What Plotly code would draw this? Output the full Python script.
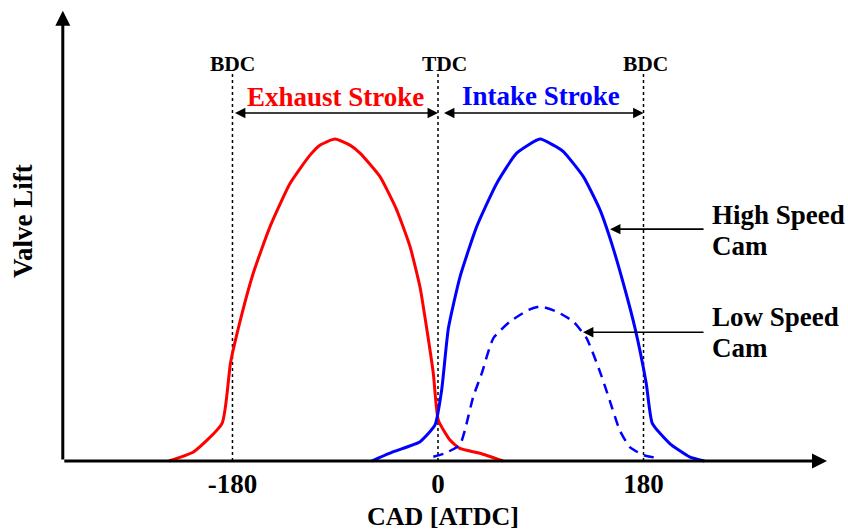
import plotly.graph_objects as go

# ---- data (crank angle in degrees ATDC, valve lift in arbitrary units) ----
exhaust_cad = [-235.7, -213.9, -189.1, -181.8, -174.9, -161.8, -147.1, -129.6, -112.1, -103.4,
               -90.2, -77.1, -68.3, -50.8, -36.2, -24.5, -15.8, -9.9, -4.1, 0.3,
               10.5, 19.2, 36.7, 57.0]
exhaust_lift = [0.0, 0.29, 1.17, 3.03, 4.12, 5.83, 7.28, 8.62, 9.50, 9.81,
                10.0, 9.81, 9.56, 8.83, 7.80, 6.66, 5.41, 4.12, 2.72, 1.27,
                0.65, 0.39, 0.24, 0.0]

intake_high_cad = [-58.0, -39.0, -15.7, -2.6, 3.2, 9.1, 19.3, 33.9, 51.4, 68.9, 89.3,
                   101.0, 109.8, 127.3, 141.9, 152.1, 162.3, 172.6, 182.4, 187.7,
                   202.8, 220.3, 233.4]
intake_high_lift = [0.0, 0.29, 0.60, 1.12, 2.2, 4.12, 5.72, 7.28, 8.62, 9.56, 10.0,
                    9.81, 9.61, 8.83, 7.80, 6.76, 5.52, 4.12, 2.41, 1.17,
                    0.55, 0.13, 0.0]

intake_low_cad = [-4.1, 6.1, 19.2, 23.6, 30.9, 38.3, 48.4, 63.1, 79.1, 89.3,
                  103.9, 118.5, 130.2, 141.9, 150.3, 159.1, 167.8, 179.5, 194.0]
intake_low_lift = [0.13, 0.24, 0.50, 0.96, 2.0, 2.72, 3.81, 4.33, 4.69, 4.80,
                   4.64, 4.33, 3.81, 2.77, 1.89, 0.96, 0.44, 0.19, 0.08]

tick_vals = [-180, 0, 180]
tick_text = ["-180", "0", "180"]
dead_centre_labels = ["BDC", "TDC", "BDC"]

FONT = "Liberation Serif"
RED = "#ff0000"
BLUE = "#0000ff"

fig = go.Figure()
fig.add_trace(go.Scatter(x=exhaust_cad, y=exhaust_lift, mode="lines",
                         line=dict(color=RED, width=3, shape="spline", smoothing=0.5),
                         hoverinfo="skip"))
fig.add_trace(go.Scatter(x=intake_high_cad, y=intake_high_lift, mode="lines",
                         line=dict(color=BLUE, width=3, shape="spline", smoothing=0.5),
                         hoverinfo="skip"))
fig.add_trace(go.Scatter(x=intake_low_cad, y=intake_low_lift, mode="lines",
                         line=dict(color=BLUE, width=2.5, dash="10px,7px", shape="spline", smoothing=0.5),
                         hoverinfo="skip"))

# dotted dead-centre lines
for xv in tick_vals:
    fig.add_shape(type="line", x0=xv, x1=xv, y0=0, y1=12.05, xref="x", yref="y",
                  line=dict(color="black", width=1.5, dash="dot"), layer="below")

ann = []
# axes with arrows
X_LEFT, X_RIGHT, Y_TOP = -328.6, 340.7, 13.98
ann.append(dict(x=X_LEFT, y=Y_TOP, ax=X_LEFT, ay=0, xref="x", yref="y", axref="x", ayref="y",
                showarrow=True, arrowhead=2, arrowsize=1.0, arrowwidth=3, arrowcolor="black", text=""))
ann.append(dict(x=X_RIGHT, y=0, ax=X_LEFT, ay=0, xref="x", yref="y", axref="x", ayref="y",
                showarrow=True, arrowhead=2, arrowsize=1.0, arrowwidth=3, arrowcolor="black", text=""))

# dead centre labels
shifts = [0, 7, 2]
for xv, lab, sh in zip(tick_vals, dead_centre_labels, shifts):
    ann.append(dict(x=xv, y=12.33, xref="x", yref="y", text=lab, showarrow=False, xshift=sh,
                    font=dict(family=FONT, size=21.5, color="black", weight="bold")))

# stroke double arrows
ann.append(dict(x=0, y=10.81, ax=-180, ay=10.81, xref="x", yref="y", axref="x", ayref="y",
                showarrow=True, arrowhead=2, startarrowhead=2, arrowside="end+start",
                arrowsize=1.3, startarrowsize=1.3, arrowwidth=1.6, arrowcolor="black",
                standoff=0, startstandoff=1, text=""))
ann.append(dict(x=180, y=10.81, ax=4, ay=10.81, xref="x", yref="y", axref="x", ayref="y",
                showarrow=True, arrowhead=2, startarrowhead=2, arrowside="end+start",
                arrowsize=1.3, startarrowsize=1.3, arrowwidth=1.6, arrowcolor="black",
                standoff=0, startstandoff=0, text=""))
ann.append(dict(x=-90, y=11.3, xref="x", yref="y", text="Exhaust Stroke", showarrow=False,
                font=dict(family=FONT, size=27, color=RED, weight="bold")))
ann.append(dict(x=90, y=11.33, xref="x", yref="y", text="Intake Stroke", showarrow=False,
                font=dict(family=FONT, size=27, color=BLUE, weight="bold")))

# cam pointers
ann.append(dict(x=150.7, y=7.2, ax=233.9, ay=7.2, xref="x", yref="y", axref="x", ayref="y",
                showarrow=True, arrowhead=2, arrowsize=1.3, arrowwidth=1.6, arrowcolor="black", text=""))
ann.append(dict(x=127.0, y=4.0, ax=233.9, ay=4.0, xref="x", yref="y", axref="x", ayref="y",
                showarrow=True, arrowhead=2, arrowsize=1.3, arrowwidth=1.6, arrowcolor="black", text=""))
for txt, yv in [("High Speed", 7.64), ("Cam", 6.68), ("Low Speed", 4.47), ("Cam", 3.51)]:
    ann.append(dict(x=238.2, y=yv, xref="x", yref="y", text=txt, showarrow=False,
                    xanchor="left", yanchor="middle",
                    font=dict(family=FONT, size=27, color="black", weight="bold")))

# axis titles
ann.append(dict(x=443 / 848, y=-0.1118, xref="paper", yref="paper", text="CAD [ATDC]", showarrow=False,
                xanchor="center", yanchor="middle",
                font=dict(family=FONT, size=26, color="black", weight="bold")))
ann.append(dict(x=23 / 848, y=0.5247, xref="paper", yref="paper", text="Valve Lift", showarrow=False,
                textangle=-90, xanchor="center", yanchor="middle",
                font=dict(family=FONT, size=27, color="black", weight="bold")))

fig.update_layout(
    width=848, height=531,
    margin=dict(l=0, r=0, t=0, b=66, autoexpand=False),
    paper_bgcolor="white", plot_bgcolor="white",
    showlegend=False,
    annotations=ann,
    xaxis=dict(range=[-383.6, 359.1], tickvals=tick_vals, ticktext=tick_text,
               showgrid=False, zeroline=False, showline=False, ticks="",
               tickfont=dict(family=FONT, size=27, color="black", weight="bold")),
    yaxis=dict(range=[-0.124, 14.317], showticklabels=False, showgrid=False,
               zeroline=False, showline=False, ticks=""),
)

fig.write_html("out.html", config={"displayModeBar": False},
               post_script="document.body.style.margin='0';")
